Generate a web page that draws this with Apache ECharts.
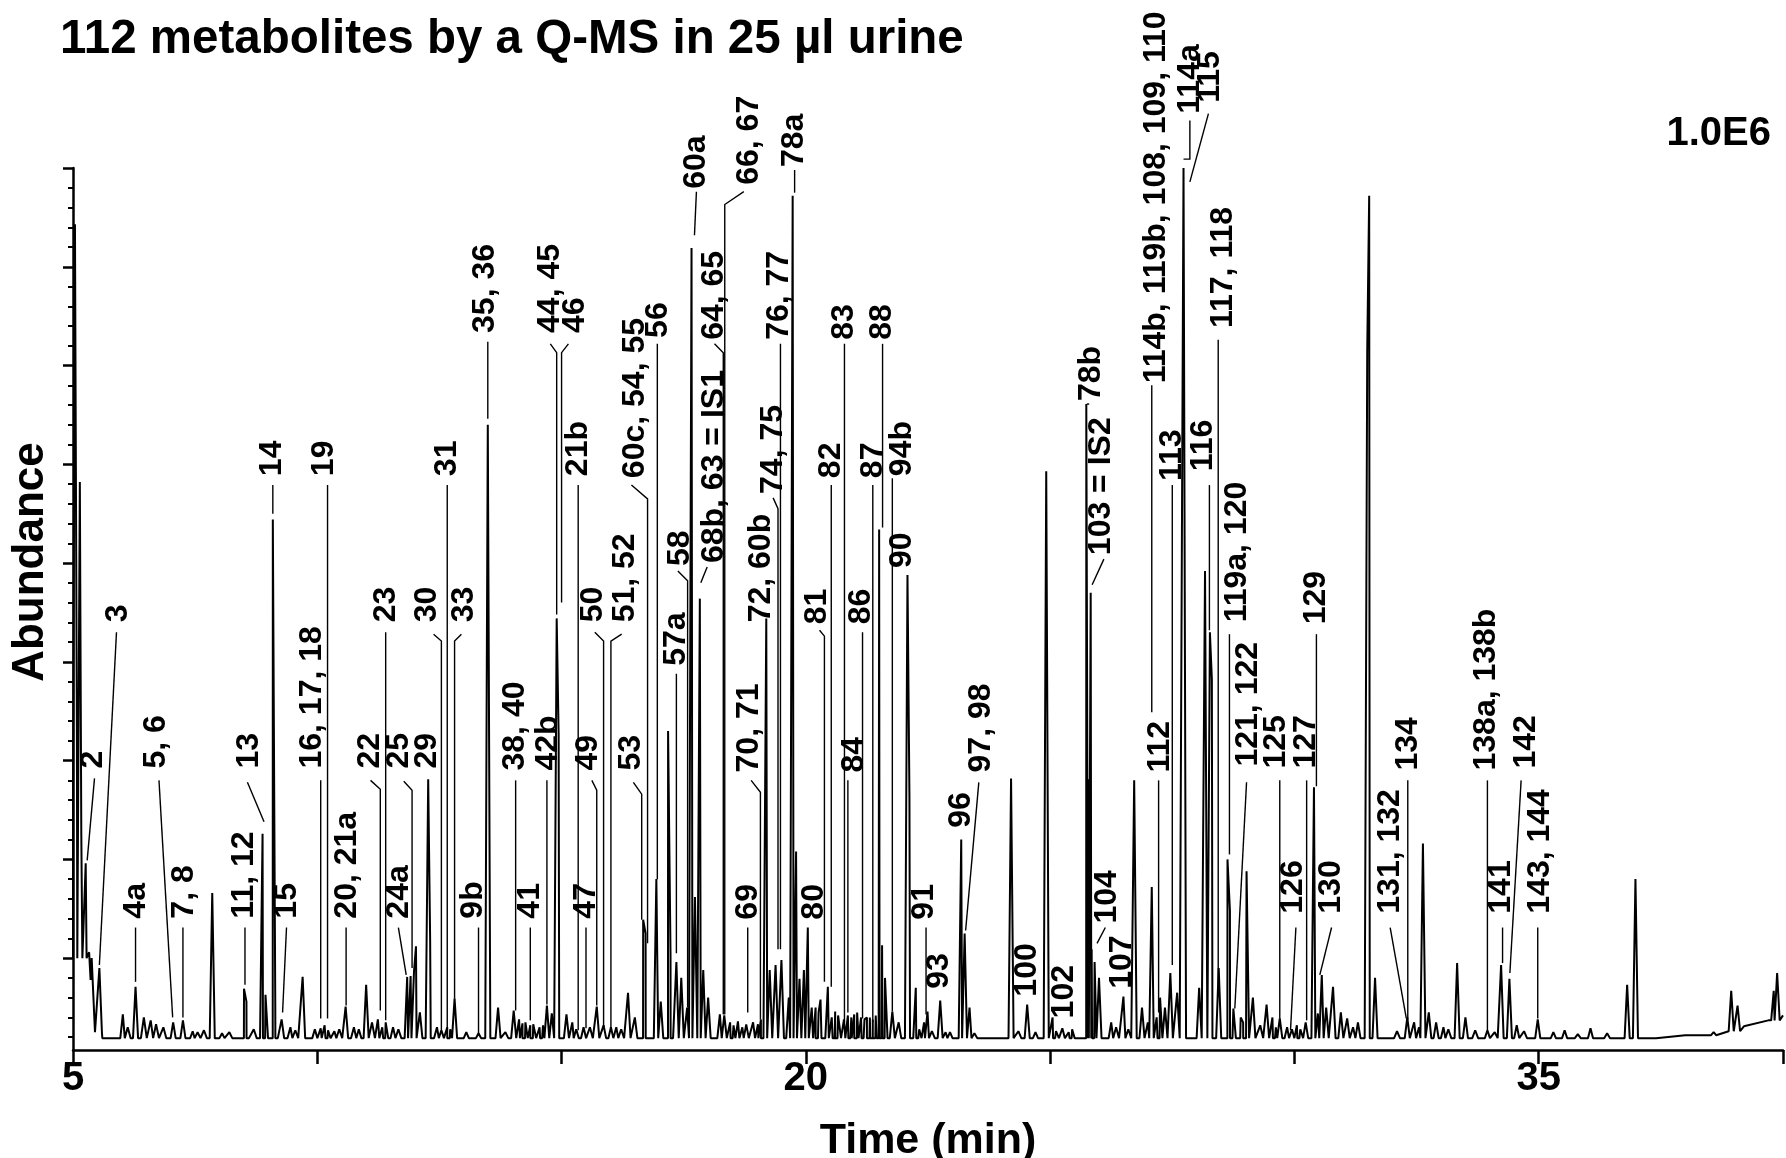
<!DOCTYPE html>
<html>
<head>
<meta charset="utf-8">
<title>112 metabolites by a Q-MS in 25 µl urine</title>
<script src="https://cdn.jsdelivr.net/npm/echarts@6/dist/echarts.min.js"></script>
<style>
  html, body { margin: 0; padding: 0; background: #fff; }
  #chart { width: 1786px; height: 1158px; }
</style>
</head>
<body>
<div id="chart"></div>
<script>
// retention time (min) of each peak apex
const peakTimes = [
  5.04, 5.08, 5.14, 5.17, 5.26, 5.33, 5.54, 6.02, 6.28, 6.59, 7.05, 7.25, 7.45, 7.85, 8.05,
  8.50, 8.55, 8.88, 8.94, 9.09, 9.14, 9.27, 9.70, 9.95, 10.07, 10.22, 10.35, 10.58, 10.85,
  11.00, 11.24, 11.40, 11.55, 11.84, 11.91, 11.98, 12.02, 12.10, 12.27, 12.31, 12.54, 12.66,
  12.81, 13.05, 13.30, 13.49, 13.70, 14.02, 14.13, 14.20, 14.36, 14.55, 14.70, 14.80, 14.90,
  14.94, 15.10, 15.30, 15.45, 15.72, 15.86, 16.01, 16.36, 16.50, 16.67, 16.72, 16.94, 17.03,
  17.18, 17.23, 17.35, 17.45, 17.57, 17.66, 17.73, 17.83, 17.90, 18.00, 18.24, 18.33, 18.45,
  18.61, 18.78, 19.08, 19.19, 19.26, 19.38, 19.50, 19.65, 19.73, 19.80, 19.87, 19.96, 20.04,
  20.20, 20.30, 20.45, 20.60, 20.70, 20.86, 20.99, 21.13, 21.25, 21.37, 21.50, 21.56, 21.62,
  21.77, 21.90, 22.08, 22.12, 22.25, 22.42, 22.49, 22.75, 22.95, 23.18, 23.25, 23.35, 24.20,
  24.53, 24.70, 24.92, 25.05, 25.25, 25.45, 25.74, 25.79, 25.83, 25.85, 25.91, 26.00, 26.25,
  26.50, 26.72, 26.88, 27.08, 27.25, 27.35, 27.46, 27.60, 27.73, 28.05, 28.17, 28.27, 28.31,
  28.45, 28.63, 28.68, 28.75, 28.90, 29.02, 29.15, 29.43, 29.55, 29.70, 29.85, 30.05, 30.23,
  30.40, 30.48, 30.56, 30.65, 30.79, 30.95, 31.08, 31.30, 31.49, 31.53, 31.65, 32.31, 32.45,
  32.63, 32.75, 32.90, 33.05, 33.33, 33.50, 33.95, 34.23, 34.40, 34.55, 34.98, 35.30, 35.53,
  36.06, 36.81, 36.98, 38.58, 38.94, 39.07, 39.81, 39.88
];
// apex abundance of each peak, same order as peakTimes
const peakHeights = [
  943000, 419000, 682000, 326000, 296000, 206000, 190000, 143000, 171000, 137000, 135000, 137000, 126000, 266000, 124000,
  169000, 156000, 326000, 163000, 644000, 155000, 138000, 181000, 128000, 129000, 127000, 126000, 151000, 128000,
  173000, 138000, 135000, 130000, 181000, 182000, 187000, 212000, 145000, 381000, 218000, 127000, 130000,
  159000, 125000, 124000, 740000, 150000, 147000, 138000, 134000, 132000, 130000, 152000, 144000, 544000,
  426000, 143000, 128000, 130000, 151000, 132000, 130000, 165000, 140000, 239000, 225000, 280000, 156000,
  430000, 204000, 196000, 180000, 150000, 919000, 262000, 564000, 188000, 160000, 143000, 142000, 135000,
  136000, 133000, 138000, 544000, 188000, 193000, 198000, 160000, 972000, 308000, 179000, 188000, 231000,
  150000, 158000, 171000, 146000, 144000, 142000, 143000, 140000, 140000, 138000, 634000, 213000, 180000,
  146000, 135000, 588000, 364000, 170000, 135000, 146000, 157000, 125000, 320000, 225000, 150000, 382000,
  153000, 125000, 693000, 140000, 129000, 128000, 761000, 381000, 570000, 209000, 196000, 180000, 135000,
  161000, 380000, 150000, 272000, 160000, 150000, 185000, 165000, 1000000, 170000, 592000, 530000, 482000,
  190000, 300000, 248000, 149000, 140000, 288000, 160000, 153000, 140000, 139000, 130000, 132000, 135000,
  373000, 144000, 183000, 150000, 171000, 145000, 139000, 135000, 814000, 972000, 180000, 140000, 135000,
  316000, 145000, 135000, 130000, 195000, 140000, 127000, 193000, 179000, 132000, 138000, 125000, 127000,
  129000, 173000, 280000, 125000, 167000, 152000, 167000, 185000
];

// small baseline bumps between the labelled peaks
const noiseTimes = [
  6.12, 6.45, 6.70, 6.85, 7.55, 7.68, 8.20, 8.70, 9.45, 9.55, 10.15, 10.45, 10.75, 11.12,
  11.33, 11.66, 12.45, 12.72, 13.85, 14.26, 14.42, 14.62, 15.22, 15.58, 16.12, 16.22, 18.52,
  18.70, 18.92, 19.02, 20.12, 20.26, 20.53, 20.66, 20.78, 20.93, 21.05, 21.20, 21.31, 21.43,
  22.32, 22.58, 22.86, 23.45, 24.35, 25.12, 25.38, 26.35, 26.60, 27.00, 27.18, 28.95, 29.30,
  29.62, 29.95, 30.12, 31.20, 32.10, 32.55, 33.15, 33.70, 34.10, 34.70, 35.80, 36.40
];
const noiseHeights = [
  130000, 140000, 133000, 130000, 125000, 127000, 125000, 128000, 130000, 127000, 132000, 128000, 130000, 135000,
  130000, 128000, 130000, 128000, 125000, 135000, 133000, 132000, 135000, 130000, 130000, 128000, 132000,
  130000, 135000, 133000, 150000, 145000, 140000, 142000, 138000, 140000, 145000, 138000, 140000, 142000,
  128000, 126000, 125000, 124000, 126000, 126000, 125000, 130000, 128000, 135000, 140000, 135000, 132000,
  130000, 128000, 128000, 130000, 126000, 130000, 128000, 127000, 125000, 126000, 123000, 124000
];

// baseline readings under the peaks
const baseTimes = [5.0, 5.36, 5.45, 5.6, 37.4, 38.0, 38.6, 39.2, 39.7, 40.0];
const baseLevels = [200000, 178000, 125000, 119000, 119000, 122000, 126000, 131000, 137000, 142000];

const xTickLabels = [5, 20, 35];
const yMajorTicks = [200000, 300000, 400000, 500000, 600000, 700000, 800000, 900000, 1000000];
const yMinorStep = 20000;

// peak annotations: text, label time, abundance at the foot of the label, leader path
const peakLabels = [
  ['2', 5.41, 392000, [[5.44, 382000], [5.29, 299000]]],
  ['3', 5.92, 540000, [[5.89, 530000], [5.54, 193000]]],
  ['4a', 6.29, 240000, [[6.28, 231000], [6.28, 176000]]],
  ['5, 6', 6.70, 392000, [[6.76, 380000], [7.04, 140000]]],
  ['7, 8', 7.28, 240000, [[7.25, 231000], [7.25, 140000]]],
  ['11, 12', 8.50, 240000, [[8.52, 231000], [8.52, 173000]]],
  ['13', 8.61, 392000, [[8.57, 378000], [8.91, 338000]]],
  ['14', 9.08, 688000, [[9.09, 679000], [9.09, 650000]]],
  ['15', 9.38, 240000, [[9.37, 231000], [9.29, 145000]]],
  ['16, 17, 18', 9.90, 392000, [[10.07, 380000], [10.07, 139000]]],
  ['19', 10.14, 688000, [[10.21, 679000], [10.21, 139000]]],
  ['20, 21a', 10.61, 240000, [[10.59, 231000], [10.59, 152000]]],
  ['22', 11.09, 392000, [[11.09, 380000], [11.29, 371000], [11.29, 147000]]],
  ['23', 11.40, 540000, [[11.40, 530000], [11.40, 137000]]],
  ['24a', 11.67, 240000, [[11.66, 231000], [11.82, 183000]]],
  ['25', 11.67, 392000, [[11.77, 379000], [11.94, 370000], [11.94, 190000]]],
  ['29', 12.25, 392000, []],
  ['30', 12.25, 540000, [[12.38, 528000], [12.54, 521000], [12.54, 127000]]],
  ['31', 12.66, 688000, [[12.66, 679000], [12.66, 129000]]],
  ['33', 13.00, 540000, [[12.95, 528000], [12.81, 521000], [12.81, 159000]]],
  ['9b', 13.20, 240000, [[13.30, 231000], [13.30, 123000]]],
  ['35, 36', 13.44, 833000, [[13.49, 824000], [13.49, 746000]]],
  ['38, 40', 14.05, 390000, [[14.06, 380000], [14.06, 147000]]],
  ['41', 14.36, 240000, [[14.36, 231000], [14.36, 137000]]],
  ['42b', 14.73, 390000, [[14.70, 380000], [14.70, 153000]]],
  ['44, 45', 14.77, 833000, [[14.77, 822000], [14.90, 813000], [14.90, 548000]]],
  ['46', 15.28, 833000, [[15.14, 822000], [15.00, 813000], [15.00, 560000]]],
  ['21b', 15.34, 688000, [[15.34, 679000], [15.34, 127000]]],
  ['47', 15.51, 240000, [[15.50, 231000], [15.50, 129000]]],
  ['49', 15.55, 390000, [[15.62, 380000], [15.72, 370000], [15.72, 152000]]],
  ['50', 15.65, 540000, [[15.68, 530000], [15.86, 521000], [15.86, 129000]]],
  ['51, 52', 16.30, 540000, [[16.23, 528000], [16.01, 521000], [16.01, 127000]]],
  ['53', 16.43, 390000, [[16.47, 378000], [16.64, 366000], [16.64, 239000]]],
  ['60c, 54, 55', 16.50, 686000, [[16.43, 679000], [16.76, 665000], [16.76, 215000]]],
  ['56', 16.98, 828000, [[16.96, 822000], [16.96, 280000]]],
  ['57a', 17.35, 496000, [[17.35, 488000], [17.35, 205000]]],
  ['58', 17.42, 597000, [[17.38, 592000], [17.58, 582000], [17.58, 150000]]],
  ['60a', 17.76, 979000, [[17.76, 976000], [17.72, 932000]]],
  ['68b, 63 = IS1', 18.13, 600000, [[17.98, 596000], [17.85, 580000]]],
  ['64, 65', 18.13, 826000, [[18.13, 822000], [18.31, 813000], [18.31, 143000]]],
  ['66, 67', 18.84, 983000, [[18.73, 976000], [18.34, 963000], [18.34, 143000]]],
  ['69', 18.81, 239000, [[18.81, 231000], [18.81, 145000]]],
  ['70, 71', 18.85, 388000, [[18.88, 380000], [19.07, 368000], [19.07, 138000]]],
  ['72, 60b', 19.09, 540000, []],
  ['74, 75', 19.33, 670000, [[19.33, 666000], [19.43, 655000], [19.43, 209000]]],
  ['76, 77', 19.46, 826000, [[19.48, 822000], [19.48, 209000]]],
  ['78a', 19.77, 1001000, [[19.77, 998000], [19.77, 975000]]],
  ['80', 20.18, 239000, []],
  ['81', 20.24, 538000, [[20.28, 532000], [20.38, 526000], [20.38, 176000]]],
  ['82', 20.52, 686000, [[20.52, 679000], [20.52, 171000]]],
  ['83', 20.79, 826000, [[20.79, 822000], [20.79, 135000]]],
  ['84', 20.99, 388000, [[20.86, 380000], [20.86, 145000]]],
  ['86', 21.13, 538000, [[21.16, 530000], [21.16, 139000]]],
  ['87', 21.37, 686000, [[21.37, 679000], [21.37, 135000]]],
  ['88', 21.57, 826000, [[21.57, 822000], [21.57, 636000]]],
  ['94b', 21.98, 688000, [[21.77, 686000], [21.77, 146000]]],
  ['90', 21.98, 595000, []],
  ['91', 22.42, 239000, [[22.46, 231000], [22.46, 143000]]],
  ['93', 22.73, 169000, []],
  ['96', 23.17, 332000, []],
  ['97, 98', 23.58, 388000, [[23.54, 378000], [23.27, 228000]]],
  ['100', 24.53, 161000, []],
  ['102', 25.28, 139000, []],
  ['78b', 25.83, 764000, [[25.80, 761000], [25.75, 761000]]],
  ['103 = IS2', 26.05, 608000, [[26.10, 604000], [25.86, 578000]]],
  ['104', 26.17, 235000, [[26.13, 231000], [25.96, 215000]]],
  ['107', 26.47, 169000, []],
  ['112', 27.25, 388000, [[27.22, 380000], [27.22, 145000]]],
  ['113', 27.49, 683000, [[27.50, 679000], [27.50, 193000]]],
  ['114b, 119b, 108, 109, 110', 27.18, 782000, [[27.08, 780000], [27.08, 449000]]],
  ['114a', 27.86, 1055000, [[27.86, 1048000], [27.86, 1009000], [27.73, 1009000]]],
  ['115', 28.27, 1066000, [[28.24, 1055000], [27.86, 986000]]],
  ['116', 28.14, 693000, [[28.26, 679000], [28.26, 532000]]],
  ['117, 118', 28.55, 838000, [[28.44, 826000], [28.44, 173000]]],
  ['119a, 120', 28.82, 540000, [[28.67, 528000], [28.67, 305000]]],
  ['121, 122', 29.06, 394000, [[29.02, 378000], [28.78, 149000]]],
  ['125', 29.63, 392000, [[29.70, 380000], [29.70, 139000]]],
  ['126', 29.97, 245000, [[30.03, 231000], [29.92, 127000]]],
  ['127', 30.25, 392000, [[30.25, 380000], [30.25, 137000]]],
  ['129', 30.45, 538000, [[30.45, 528000], [30.45, 374000]]],
  ['130', 30.76, 245000, [[30.76, 231000], [30.52, 183000]]],
  ['131, 132', 31.95, 245000, [[31.96, 231000], [32.29, 139000]]],
  ['134', 32.32, 390000, [[32.32, 380000], [32.32, 138000]]],
  ['138a, 138b', 33.92, 390000, [[33.95, 380000], [33.95, 127000]]],
  ['141', 34.23, 245000, [[34.26, 231000], [34.26, 195000]]],
  ['142', 34.74, 392000, [[34.64, 380000], [34.41, 185000]]],
  ['143, 144', 35.04, 245000, [[34.98, 231000], [34.98, 139000]]]
];

const FONT = '"Liberation Sans", Arial, Helvetica, sans-serif';
const yMin = 107000;
const yMax = 1000000;
const peakHalfWidth = 0.052;
const bumpHalfWidth = 0.06;

// baseline level in force at time t (last reading at or before t)
function baseAt(t) {
  let v = baseLevels[0];
  for (let i = 0; i < baseTimes.length; i++) {
    if (baseTimes[i] <= t) v = baseLevels[i];
  }
  return v;
}

const trace = baseTimes.map((t, i) => [t, baseLevels[i]]);
peakTimes.forEach((t, i) => {
  const b = baseAt(t);
  trace.push([t - peakHalfWidth, b], [t, peakHeights[i]], [t + peakHalfWidth, b]);
});
noiseTimes.forEach((t, i) => {
  const b = baseAt(t);
  trace.push([t - bumpHalfWidth, b], [t, noiseHeights[i]], [t + bumpHalfWidth, b]);
});
trace.sort((a, b) => a[0] - b[0]);

const yMinorTicks = [];
for (let v = 120000; v < yMax; v += yMinorStep) {
  if (!yMajorTicks.includes(v)) yMinorTicks.push(v);
}

const chart = echarts.init(document.getElementById('chart'));

const option = {
  animation: false,
  backgroundColor: '#fff',
  title: {
    text: '112 metabolites by a Q-MS in 25 µl urine',
    left: 60,
    top: 16,
    padding: 0,
    textStyle: { fontSize: 47.5, fontWeight: 'bold', color: '#000', fontFamily: FONT }
  },
  graphic: [
    {
      type: 'text',
      x: 31,
      y: 562,
      rotation: Math.PI / 2,
      style: {
        text: 'Abundance',
        font: 'bold 44px ' + FONT,
        fill: '#000',
        align: 'center',
        verticalAlign: 'middle'
      }
    },
    {
      type: 'text',
      x: 1771,
      y: 134,
      style: {
        text: '1.0E6',
        font: 'bold 40px ' + FONT,
        fill: '#000',
        align: 'right',
        verticalAlign: 'middle'
      }
    }
  ],
  grid: {
    left: 73,
    right: 3,
    top: 168,
    bottom: 108,
    containLabel: false,
    outerBoundsMode: 'none'
  },
  xAxis: {
    type: 'value',
    min: 5,
    max: 40,
    interval: 5,
    name: 'Time (min)',
    nameLocation: 'middle',
    nameGap: 70,
    nameTextStyle: { fontSize: 43, fontWeight: 'bold', color: '#000', fontFamily: FONT },
    axisLine: { lineStyle: { color: '#000', width: 2.5 } },
    axisTick: { length: 14, lineStyle: { color: '#000', width: 2.5 } },
    axisLabel: {
      margin: 9,
      fontSize: 40,
      fontWeight: 'bold',
      color: '#000',
      fontFamily: FONT,
      formatter: v => (xTickLabels.includes(v) ? String(v) : '')
    },
    splitLine: { show: false }
  },
  yAxis: [
    {
      type: 'value',
      min: yMin,
      max: yMax,
      position: 'left',
      axisLine: { show: true, lineStyle: { color: '#000', width: 2.5 } },
      axisTick: { show: true, length: 5, customValues: yMinorTicks, lineStyle: { color: '#000', width: 2 } },
      axisLabel: { show: false },
      splitLine: { show: false }
    },
    {
      type: 'value',
      min: yMin,
      max: yMax,
      position: 'left',
      axisLine: { show: false },
      axisTick: { show: true, length: 10, customValues: yMajorTicks, lineStyle: { color: '#000', width: 2.5 } },
      axisLabel: { show: false },
      splitLine: { show: false }
    }
  ],
  series: [
    {
      name: 'TIC',
      type: 'line',
      yAxisIndex: 0,
      data: trace,
      showSymbol: false,
      symbol: 'none',
      smooth: false,
      lineStyle: { color: '#000', width: 2, join: 'bevel' },
      z: 3
    },
    {
      name: 'labels',
      type: 'custom',
      yAxisIndex: 0,
      clip: false,
      silent: true,
      data: peakLabels.map(l => [l[1], l[2]]),
      renderItem: (params, api) => {
        const lab = peakLabels[params.dataIndex];
        const foot = api.coord([lab[1], lab[2]]);
        const children = [
          {
            type: 'text',
            x: foot[0],
            y: foot[1],
            rotation: Math.PI / 2,
            style: {
              text: lab[0],
              font: 'bold 32px ' + FONT,
              fill: '#000',
              align: 'left',
              verticalAlign: 'middle'
            }
          }
        ];
        if (lab[3].length) {
          children.push({
            type: 'polyline',
            shape: { points: lab[3].map(p => api.coord(p)) },
            style: { stroke: '#000', lineWidth: 1.4, fill: null }
          });
        }
        return { type: 'group', children };
      },
      z: 4
    }
  ]
};

chart.setOption(option);
</script>
</body>
</html>
